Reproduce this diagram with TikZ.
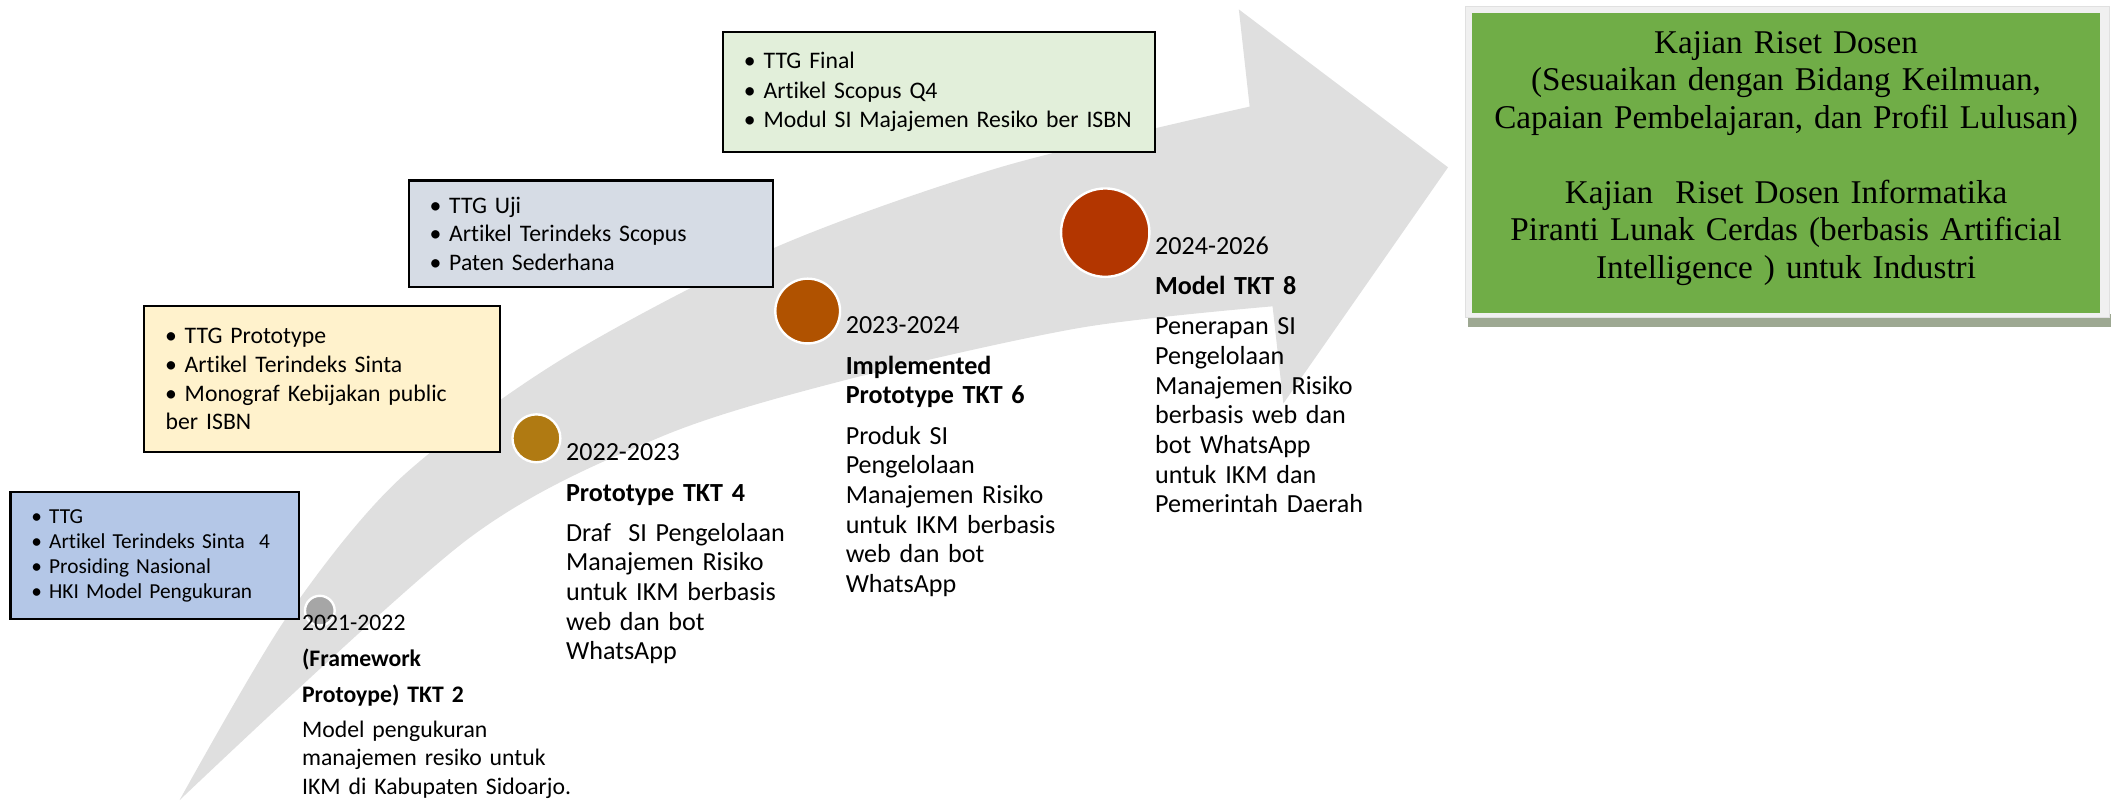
\documentclass[tikz,border=0pt]{standalone}
\usepackage{fontspec}
\setmainfont{Carlito}[Ligatures=NoCommon]
\newfontfamily\goalfont{Liberation Serif}
\usepackage{tikz}
\definecolor{arrowgray}{RGB}{223,223,223}
\definecolor{boxblue}{RGB}{180,199,231}
\definecolor{boxyellow}{RGB}{255,242,204}
\definecolor{boxsteel}{RGB}{214,220,229}
\definecolor{boxmint}{RGB}{226,239,218}
\definecolor{goalgreen}{RGB}{112,173,71}
\definecolor{goalshadow}{RGB}{157,168,146}
\definecolor{dotgray}{RGB}{166,166,166}
\definecolor{dotgold}{RGB}{176,122,18}
\definecolor{dotorange}{RGB}{176,82,0}
\definecolor{dotred}{RGB}{179,54,0}
\newcommand{\bul}{\hspace*{3.1mm}\textbullet\ }
\tikzset{
  outbox/.style={draw=black,line width=0.9pt,inner sep=0pt,align=left,anchor=north west,font=\fontsize{10}{12.2}\selectfont},
  stagedot/.style={circle,draw=white,line width=1pt,inner sep=0pt},
  stagetext/.style={anchor=base west,inner sep=0pt,align=left,text width=5cm,font=\fontsize{11}{12.5}\selectfont},
  goaltext/.style={anchor=base,inner sep=0pt,align=center,text width=9.6cm,font=\goalfont\fontsize{14}{15.8}\selectfont},
}

\begin{document}
\begin{tikzpicture}[x=0.2mm,y=-0.2mm]
  \useasboundingbox (0,0) rectangle (1568,593);
  \fill[arrowgray] plot[smooth] coordinates {(133,593) (212,458) (295,356) (415,267) (573,184) (741,124) (926,79)}
    -- (918,7) -- (1073,124) -- (951,299) -- (943,227)
    -- plot[smooth] coordinates {(943,227) (800,243) (625,282) (489,324) (346,400) (133,593)} -- cycle;

  \node at (7,364) [outbox,fill=boxblue,text width=4.28cm,minimum height=1.88cm,font=\fontsize{9}{10.6}\selectfont] (out1)
    {\bul TTG\\\bul Artikel Terindeks Sinta~~4\\\bul Prosiding Nasional\\\bul HKI Model Pengukuran};
  \node at (106,226) [outbox,fill=boxyellow,text width=5.28cm,minimum height=2.16cm] (out2)
    {\bul TTG Prototype\\\bul Artikel Terindeks Sinta\\\bul Monograf Kebijakan public\\\hspace*{3.2mm}ber ISBN};
  \node at (302,133) [outbox,fill=boxsteel,text width=5.4cm,minimum height=1.58cm,font=\fontsize{10}{12.1}\selectfont] (out3)
    {\bul TTG Uji\\\bul Artikel Terindeks Scopus\\\bul Paten Sederhana};
  \node at (535,23) [outbox,fill=boxmint,text width=6.4cm,minimum height=1.78cm,font=\fontsize{10}{12.4}\selectfont] (out4)
    {\bul TTG Final\\\bul Artikel Scopus Q4\\\bul Modul SI Majajemen Resiko ber ISBN};

  \path[fill=goalshadow] (1088,233) rectangle (1564,242);
  \path[draw=black!12,fill=black!6] (1086,5) rectangle (1563,235);
  \path[fill=goalgreen] (1091,10) rectangle (1556,232);
  \node at (1323.5,39.5) [goaltext] (goal) {Kajian Riset Dosen\\(Sesuaikan dengan Bidang Keilmuan,\\Capaian Pembelajaran, dan Profil Lulusan)\\[15.8pt]Kajian~~Riset Dosen Informatika\\Piranti Lunak Cerdas (berbasis Artificial\\Intelligence ) untuk Industri};

  \node at (237,452.5) [stagedot,fill=dotgray,minimum size=0.44cm] (c1) {};
  \node at (397.5,324.8) [stagedot,fill=dotgold,minimum size=0.71cm] (c2) {};
  \node at (598.5,230.5) [stagedot,fill=dotorange,minimum size=0.96cm] (c3) {};
  \node at (819,172.4) [stagedot,fill=dotred,minimum size=1.31cm] (c4) {};

  \node at (223.5,467.5) [stagetext,font=\fontsize{10}{12}\selectfont] (t1)
    {2021-2022\\[3pt]\textbf{(Framework}\\[3.2pt]\textbf{Protoype) TKT 2}\\[2.6pt]Model pengukuran\\manajemen resiko untuk\\IKM di Kabupaten Sidoarjo.};
  \node at ([shift={(3,16.6)}]c2.east) [stagetext] (t2)
    {2022-2023\\[4.9pt]\textbf{Prototype TKT 4}\\[4pt]Draf~~SI Pengelolaan\\Manajemen Risiko\\untuk IKM berbasis\\web dan bot\\WhatsApp};
  \node at ([shift={(3,16.3)}]c3.east) [stagetext] (t3)
    {2023-2024\\[4.8pt]\textbf{Implemented}\\\textbf{Prototype TKT 6}\\[4.6pt]Produk SI\\Pengelolaan\\Manajemen Risiko\\untuk IKM berbasis\\web dan bot\\WhatsApp};
  \node at ([shift={(3,16.3)}]c4.east) [stagetext] (t4)
    {2024-2026\\[4.1pt]\textbf{Model TKT 8}\\[4.7pt]Penerapan SI\\Pengelolaan\\Manajemen Risiko\\berbasis web dan\\bot WhatsApp\\untuk IKM dan\\Pemerintah Daerah};
\end{tikzpicture}
\end{document}
